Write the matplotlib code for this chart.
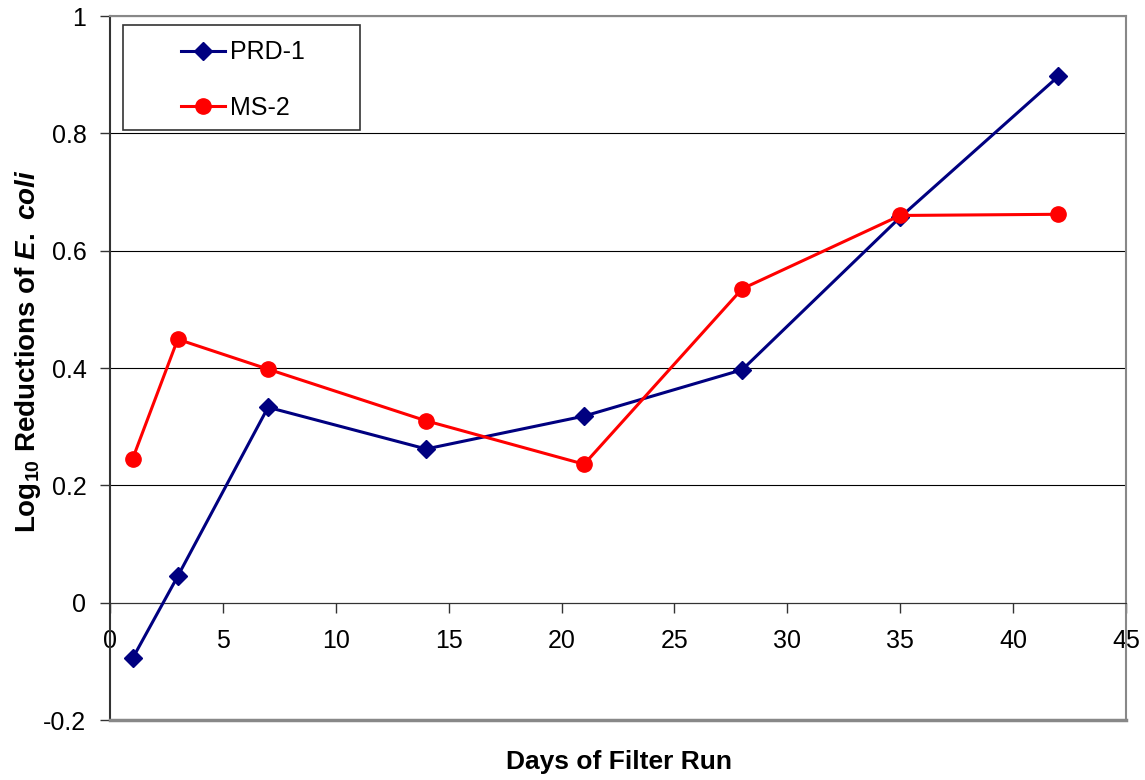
import matplotlib
matplotlib.use('Agg')
import matplotlib.pyplot as plt
from matplotlib.patches import Rectangle

plt.rcParams['font.family'] = ['Liberation Sans', 'DejaVu Sans']
plt.rcParams['mathtext.fontset'] = 'custom'
plt.rcParams['mathtext.rm'] = 'Liberation Sans:bold'
plt.rcParams['mathtext.it'] = 'Liberation Sans:bold:italic'
plt.rcParams['mathtext.bf'] = 'Liberation Sans:bold'

days = [1, 3, 7, 14, 21, 28, 35, 42]
prd1 = [-0.095, 0.045, 0.333, 0.262, 0.318, 0.397, 0.657, 0.897]
ms2 = [0.245, 0.449, 0.398, 0.310, 0.236, 0.535, 0.660, 0.662]

xticks = [0, 5, 10, 15, 20, 25, 30, 35, 40, 45]
yticks = [-0.2, 0, 0.2, 0.4, 0.6, 0.8, 1.0]
ytick_labels = ['-0.2', '0', '0.2', '0.4', '0.6', '0.8', '1']

W, H = 1145, 780
fig = plt.figure(figsize=(W / 100, H / 100), dpi=100)
ax = fig.add_axes([110 / W, 1 - 720 / H, 1016 / W, 704 / H])

ax.plot(days, prd1, color='#000080', lw=2.2, marker='D', ms=9, label='PRD-1', zorder=3)
ax.plot(days, ms2, color='#ff0000', lw=2.2, marker='o', ms=11, label='MS-2', zorder=4)

ax.set_xlim(0, 45)
ax.set_ylim(-0.2, 1.0)
ax.set_xticks(xticks)
ax.set_yticks(yticks)
ax.set_yticklabels(ytick_labels)
ax.tick_params(labelsize=18, length=7, width=1, color='#333333')
ax.tick_params(axis='x', pad=12)
ax.tick_params(axis='y', pad=10)

ax.yaxis.grid(True, color='black', lw=0.8)
ax.set_axisbelow(True)

ax.spines['bottom'].set_position(('data', 0))
ax.spines['bottom'].set_color('#333333')
ax.spines['left'].set_color('#333333')
ax.spines['left'].set_linewidth(1.5)
for s in ['top', 'right']:
    ax.spines[s].set_color('#888888')
    ax.spines[s].set_linewidth(1.5)
ax.axhline(-0.2, color='#888888', lw=2.5, clip_on=False, zorder=5)

fig.text(619 / W, 1 - 762 / H, 'Days of Filter Run', fontsize=19, fontweight='bold',
         ha='center', va='center')
fig.text(28 / W, 1 - 351 / H, r'Log$_{10}$ Reductions of $E.\ coli$', fontsize=20,
         fontweight='bold', rotation=90, ha='center', va='center')

# legend frame drawn separately so the box matches the reference
fig.patches.append(Rectangle((123 / W, 1 - 130 / H), 237 / W, 105 / H,
                             transform=fig.transFigure, fill=False,
                             edgecolor='#333333', lw=1.2, zorder=10))
leg = ax.legend(loc='center left', bbox_to_anchor=(181 / W, 1 - 80 / H),
                bbox_transform=fig.transFigure, fontsize=18, frameon=False,
                borderpad=0, labelspacing=1.25, handlelength=1.75,
                handletextpad=0.2, borderaxespad=0)

fig.savefig('out.png', dpi=100)
